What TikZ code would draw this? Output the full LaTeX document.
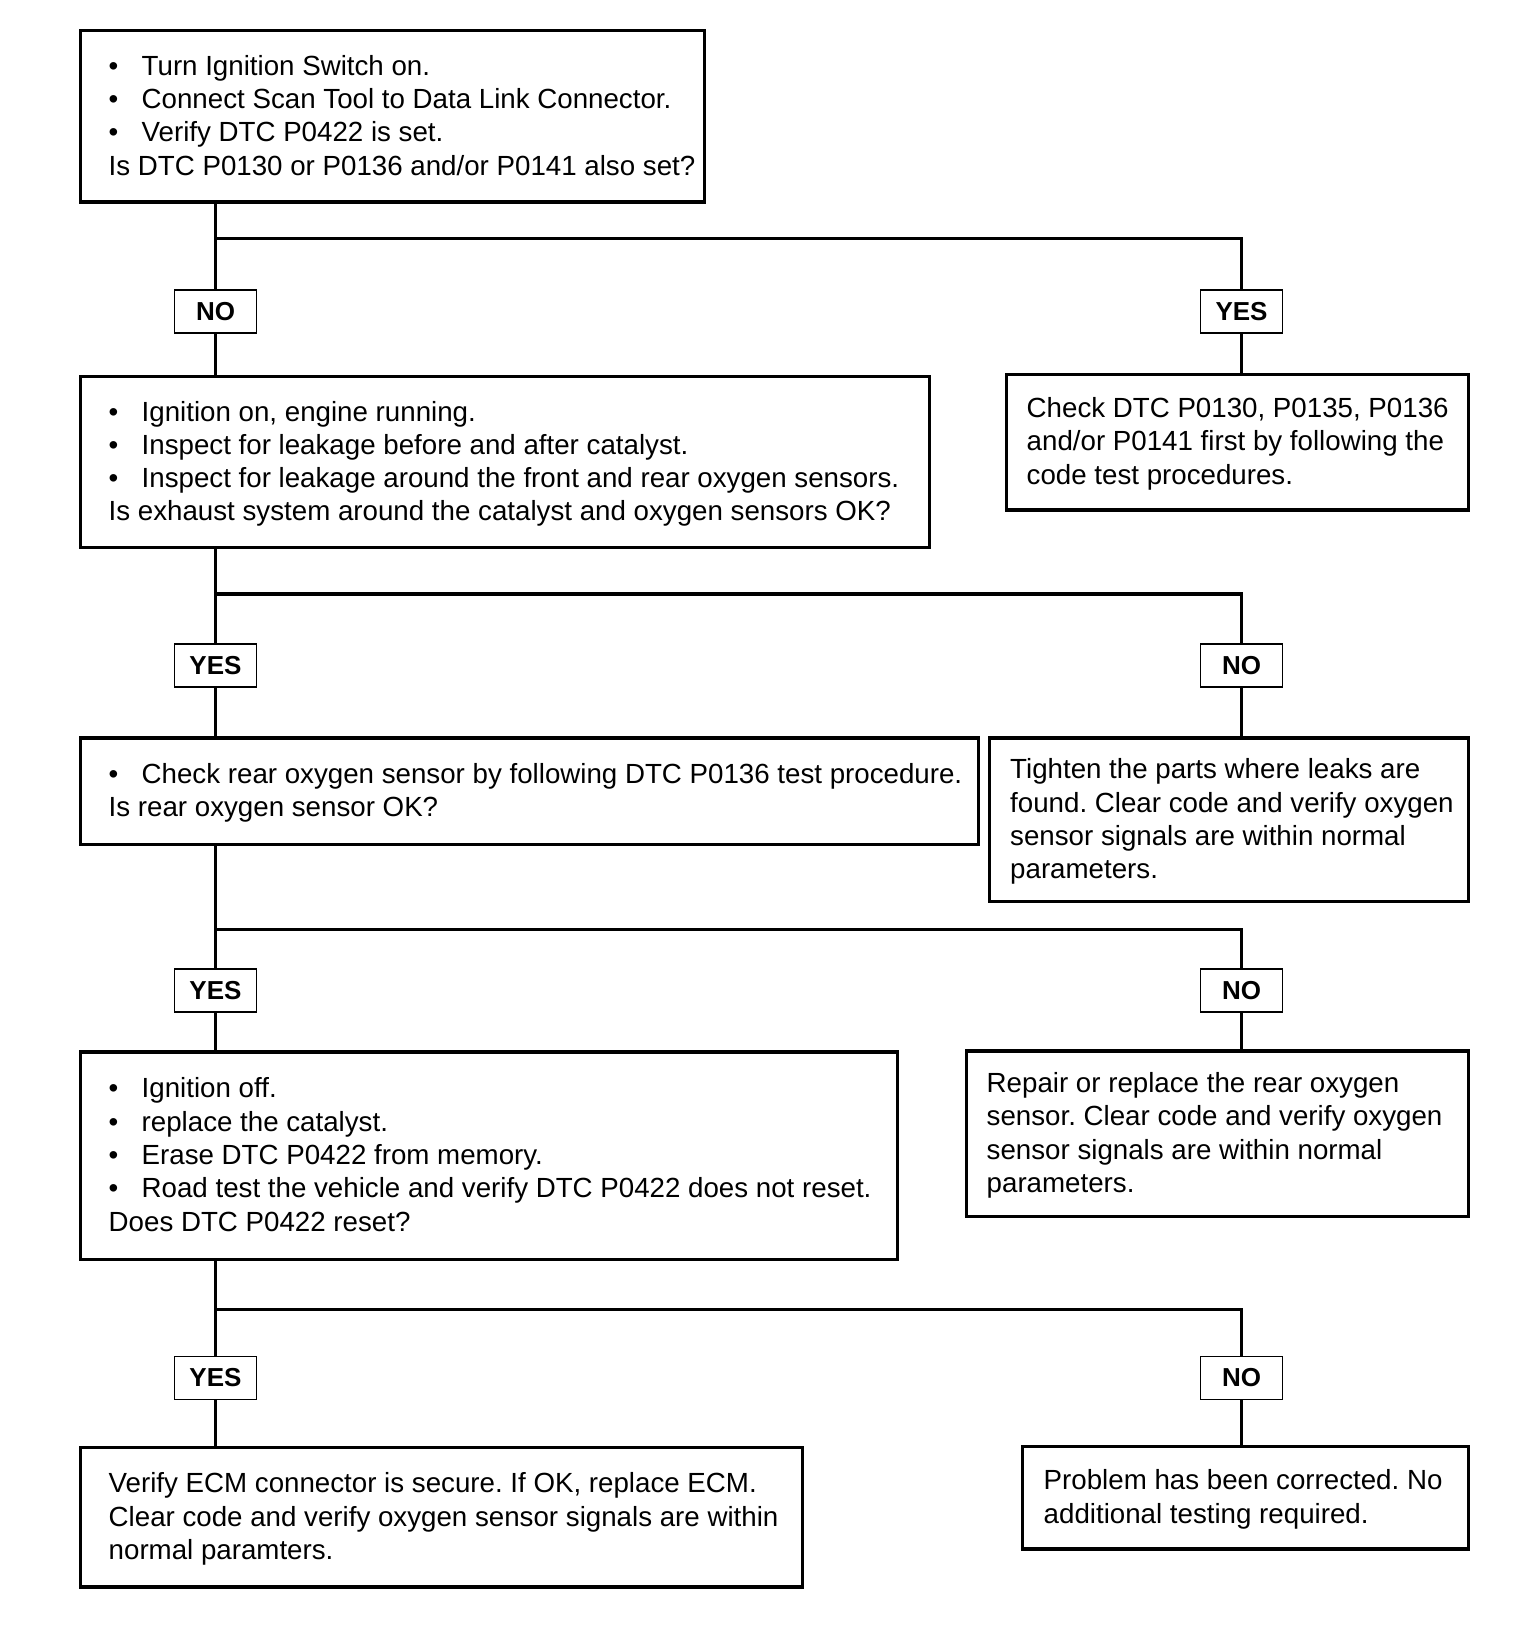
\documentclass[tikz,border=0pt]{standalone}
\usepackage{fontspec}
\setmainfont{Liberation Sans}
\newcommand{\bitem}{\makebox[33pt][l]{\textbullet}}
\begin{document}
\frenchspacing
\begin{tikzpicture}[x=1pt,y=-1pt,
  box/.style={draw, line width=3.4pt, anchor=north west, inner sep=0pt},
  txt/.style={anchor=north west, inner sep=0pt, align=left, font=\fontsize{27.7}{33.3}\selectfont\frenchspacing},
  lbl/.style={draw, line width=1.9pt, fill=white, minimum width=82pt, minimum height=43pt, inner sep=0pt, font=\fontsize{26}{30}\selectfont\bfseries},
  conn/.style={line width=3.2pt}]
\useasboundingbox (0,0) rectangle (1536,1628);
% boxes
\node[box, minimum width=624pt, minimum height=171.4pt] (b1) at (79,28.9) {};
\node[box, minimum width=849pt, minimum height=171.4pt] (b2) at (79,374.6) {};
\node[box, minimum width=462pt, minimum height=135.5pt] (b3) at (1005,372.7) {};
\node[box, minimum width=898pt, minimum height=106.6pt] (b4) at (79,736.3) {};
\node[box, minimum width=479pt, minimum height=163.4pt] (b5) at (988,736.3) {};
\node[box, minimum width=817pt, minimum height=207.3pt] (b6) at (79,1050.2) {};
\node[box, minimum width=502pt, minimum height=165.4pt] (b7) at (965,1049.2) {};
\node[box, minimum width=722pt, minimum height=139.5pt] (b8) at (79,1445.8) {};
\node[box, minimum width=446pt, minimum height=102.6pt] (b9) at (1021,1444.8) {};
% texts
\node[txt] (t1) at (108.5,55.0) {\bitem Turn Ignition Switch on.\\ \bitem Connect Scan Tool to Data Link Connector.\\ \bitem Verify DTC P0422 is set.\\ Is DTC P0130 or P0136 and/or P0141 also set?};
\node[txt] (t2) at (108.5,400.8) {\bitem Ignition on, engine running.\\ \bitem Inspect for leakage before and after catalyst.\\ \bitem Inspect for leakage around the front and rear oxygen sensors.\\ Is exhaust system around the catalyst and oxygen sensors OK?};
\node[txt] (t3) at (1026.5,397.4) {Check DTC P0130, P0135, P0136\\ and/or P0141 first by following the\\ code test procedures.};
\node[txt] (t4) at (108.5,763.2) {\bitem Check rear oxygen sensor by following DTC P0136 test procedure.\\ Is rear oxygen sensor OK?};
\node[txt] (t5) at (1010,758.5) {Tighten the parts where leaks are\\ found. Clear code and verify oxygen\\ sensor signals are within normal\\ parameters.};
\node[txt] (t6) at (108.5,1077.6) {\bitem Ignition off.\\ \bitem replace the catalyst.\\ \bitem Erase DTC P0422 from memory.\\ \bitem Road test the vehicle and verify DTC P0422 does not reset.\\ Does DTC P0422 reset?};
\node[txt] (t7) at (986.5,1072.3) {Repair or replace the rear oxygen\\ sensor. Clear code and verify oxygen\\ sensor signals are within normal\\ parameters.};
\node[txt] (t8) at (108.5,1472.5) {Verify ECM connector is secure. If OK, replace ECM.\\ Clear code and verify oxygen sensor signals are within\\ normal paramters.};
\node[txt] (t9) at (1043.5,1469.7) {Problem has been corrected. No\\ additional testing required.};
% junctions
\coordinate (j1) at (215.5,238.1);
\coordinate (j2) at (215.5,593.9);
\coordinate (j3) at (215.5,929.1);
\coordinate (j4) at (215.5,1309.3);
% labels
\node[lbl] (n1) at (215.5,311.9) {NO};
\node[lbl] (y1) at (1241.5,311.9) {YES};
\node[lbl] (y2) at (215.5,665.6) {YES};
\node[lbl] (n2) at (1241.5,665.6) {NO};
\node[lbl] (y3) at (215.5,990.4) {YES};
\node[lbl] (n3) at (1241.5,990.4) {NO};
\node[lbl] (y4) at (215.5,1378.0) {YES};
\node[lbl] (n4) at (1241.5,1378.0) {NO};
% connectors
\draw[conn] (b1.south -| j1) -- (n1);
\draw[conn] (n1) -- (b2.north -| n1);
\draw[conn] (j1) -| (y1);
\draw[conn] (y1) -- (b3.north -| y1);
\draw[conn] (b2.south -| j2) -- (y2);
\draw[conn] (y2) -- (b4.north -| y2);
\draw[conn] (j2) -| (n2);
\draw[conn] (n2) -- (b5.north -| n2);
\draw[conn] (b4.south -| j3) -- (y3);
\draw[conn] (y3) -- (b6.north -| y3);
\draw[conn] (j3) -| (n3);
\draw[conn] (n3) -- (b7.north -| n3);
\draw[conn] (b6.south -| j4) -- (y4);
\draw[conn] (y4) -- (b8.north -| y4);
\draw[conn] (j4) -| (n4);
\draw[conn] (n4) -- (b9.north -| n4);
\end{tikzpicture}
\end{document}
